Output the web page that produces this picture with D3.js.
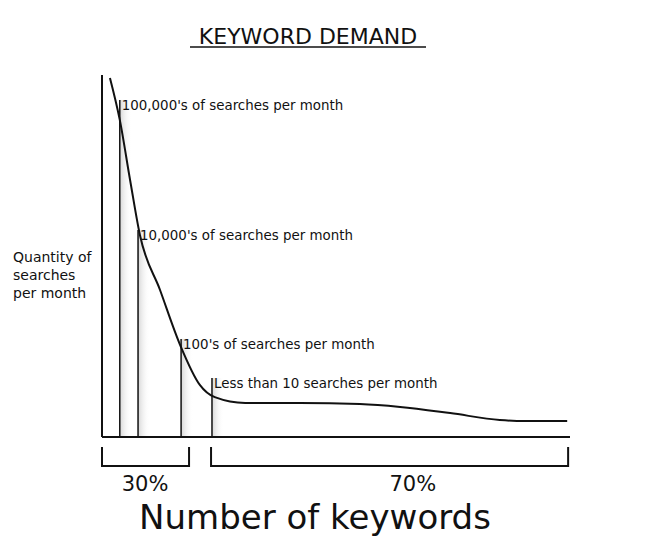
<!DOCTYPE html>
<html lang="en">
<head>
<meta charset="UTF-8">
<title>Keyword Demand</title>
<script src="https://d3js.org/d3.v7.min.js"></script>
<style>
  body { margin: 0; background: #fff; }
  text { font-family: "DejaVu Sans", sans-serif; fill: #111; }
</style>
</head>
<body>
<script>
  // curve of demand, keyword share (0-100) vs search volume (0-100)
  const curveX = [1.7, 3.8, 6.0, 8.1, 12.4, 16.7, 20.9, 24.1, 30.6, 42.3, 55.1, 63.7, 74.4, 85.0, 90.4, 99.4];
  const curveY = [99.2, 87.6, 71.0, 55.8, 40.6, 25.4, 14.4, 11.0, 9.4, 9.4, 9.1, 8.3, 6.6, 4.7, 4.4, 4.4];

  // marker lines and their labels
  const markerX = [3.8, 7.7, 16.9, 23.5];
  const markerTop = [93.1, 57.2, 27.1, 16.3];
  const markerLabels = ["100,000's of searches per month", "10,000's of searches per month",
                        "100's of searches per month", "Less than 10 searches per month"];

  // brackets under the axis
  const bracketStart = [0, 23.3];
  const bracketEnd = [18.6, 99.6];
  const bracketLabelX = [9.2, 66.4];
  const bracketLabels = ["30%", "70%"];

  const w = 650, h = 550;
  const x = d3.scaleLinear().domain([0, 100]).range([102, 570]);
  const y = d3.scaleLinear().domain([0, 100]).range([437, 75]);

  const svg = d3.select("body").append("svg").attr("width", w).attr("height", h);

  const defs = svg.append("defs");
  const grad = defs.append("linearGradient").attr("id", "shade");
  grad.append("stop").attr("offset", "0%").attr("stop-color", "#ccc").attr("stop-opacity", 0.8);
  grad.append("stop").attr("offset", "100%").attr("stop-color", "#fff").attr("stop-opacity", 0);

  // title
  svg.append("text").attr("x", 308).attr("y", 44).attr("text-anchor", "middle")
    .style("font-size", "22px").text("KEYWORD DEMAND");
  svg.append("line").attr("x1", 190).attr("x2", 426).attr("y1", 47).attr("y2", 47)
    .attr("stroke", "#111").attr("stroke-width", 1.5);

  // marker shadows + lines
  markerX.forEach((mx, i) => {
    svg.append("rect").attr("x", x(mx)).attr("y", y(markerTop[i]))
      .attr("width", 12).attr("height", y(0) - y(markerTop[i]))
      .attr("fill", "url(#shade)");
    svg.append("line").attr("x1", x(mx)).attr("x2", x(mx))
      .attr("y1", y(markerTop[i])).attr("y2", y(0))
      .attr("stroke", "#111").attr("stroke-width", 1.5);
    svg.append("text").attr("x", x(mx) + 2).attr("y", y(markerTop[i]) + 10)
      .style("font-size", "13.4px").text(markerLabels[i]);
  });

  // axes
  svg.append("line").attr("x1", x(0)).attr("x2", x(0)).attr("y1", y(100)).attr("y2", y(0))
    .attr("stroke", "#111").attr("stroke-width", 2);
  svg.append("line").attr("x1", x(0)).attr("x2", x(100)).attr("y1", y(0)).attr("y2", y(0))
    .attr("stroke", "#111").attr("stroke-width", 2);

  // curve
  const line = d3.line().x(d => x(d[0])).y(d => y(d[1])).curve(d3.curveMonotoneX);
  svg.append("path").datum(curveX.map((v, i) => [v, curveY[i]]))
    .attr("d", line).attr("fill", "none").attr("stroke", "#111").attr("stroke-width", 2);

  // y label
  svg.append("text").attr("x", 13).attr("y", 262).style("font-size", "14px")
    .selectAll("tspan").data(["Quantity of", "searches", "per month"]).enter()
    .append("tspan").attr("x", 13).attr("dy", (d, i) => i ? 18 : 0).text(d => d);

  // brackets
  bracketStart.forEach((b, i) => {
    const x0 = x(b), x1 = x(bracketEnd[i]);
    svg.append("path").attr("d", `M${x0},447 V466 H${x1} V447`)
      .attr("fill", "none").attr("stroke", "#111").attr("stroke-width", 2);
    svg.append("text").attr("x", x(bracketLabelX[i])).attr("y", 491).attr("text-anchor", "middle")
      .style("font-size", "21px").text(bracketLabels[i]);
  });

  svg.append("text").attr("x", 315).attr("y", 529).attr("text-anchor", "middle")
    .style("font-size", "34px").text("Number of keywords");
</script>
</body>
</html>
